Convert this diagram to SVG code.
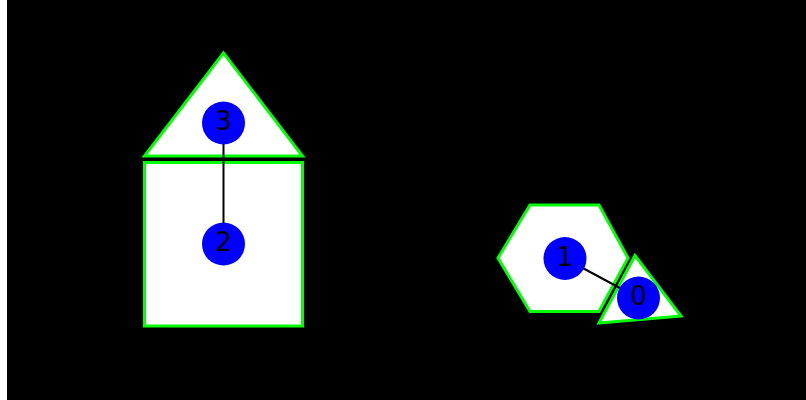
<svg xmlns="http://www.w3.org/2000/svg" width="806" height="400" viewBox="0 0 806 400">
<style>
.shape{fill:#ffffff;stroke:#00ff00;stroke-width:3;stroke-linejoin:miter}
.node{fill:#0000ff}
.lbl{font-family:"DejaVu Sans",sans-serif;font-size:26px;fill:#000000;text-anchor:middle}
.edge{stroke:#000000;stroke-width:2}
</style>
<rect x="0" y="0" width="806" height="400" fill="#ffffff"/>
<rect x="7" y="0" width="799" height="400" fill="#000000"/>
<g id="shapes">
<polygon class="shape" points="223.5,53 144.5,156 302.5,156"/>
<rect class="shape" x="144.5" y="162.5" width="158" height="163.5"/>
<polygon class="shape" points="530,205 599,205 628,258 599,311.5 530,311.5 498,258"/>
<polygon class="shape" points="635,255.5 599,323 681,316"/>
</g>
<g id="connectors">
<line class="edge" x1="223.5" y1="123" x2="223.5" y2="244"/>
<line class="edge" x1="565" y1="258.5" x2="638.5" y2="298"/>
</g>
<g id="node0"><circle class="node" cx="638.5" cy="298" r="21.5"/><text class="lbl" x="638.5" y="305">0</text></g>
<g id="node1"><circle class="node" cx="565" cy="258.5" r="21.5"/><text class="lbl" x="565" y="265.5">1</text></g>
<g id="node2"><circle class="node" cx="223.5" cy="244" r="21.5"/><text class="lbl" x="223.5" y="251">2</text></g>
<g id="node3"><circle class="node" cx="223.5" cy="123" r="21.5"/><text class="lbl" x="223.5" y="130">3</text></g>
</svg>
